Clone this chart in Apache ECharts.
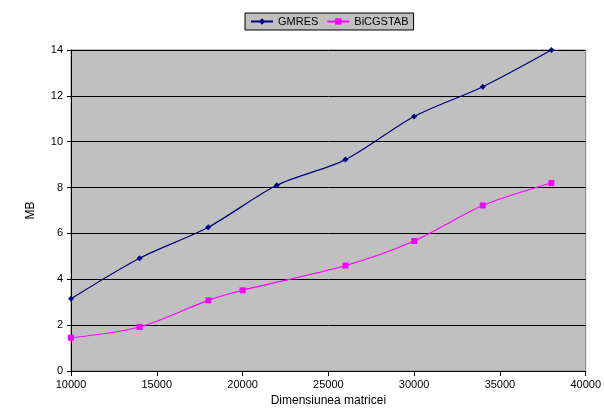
<!DOCTYPE html>
<html>
<head>
<meta charset="utf-8">
<script src="https://cdn.jsdelivr.net/npm/echarts@6/dist/echarts.min.js"></script>
<style>
  html, body { margin: 0; padding: 0; background: #fff; }
  #chart { width: 604px; height: 418px; }
</style>
</head>
<body>
<div id="chart"></div>
<script>
// Memory usage (MB) versus matrix dimension
const gmresSizes = [10000, 14000, 18000, 22000, 26000, 30000, 34000, 38000];
const gmresMB = [3.15, 4.92, 6.27, 8.1, 9.22, 11.1, 12.4, 14.0];
const bicgSizes = [10000, 14000, 18000, 20000, 26000, 30000, 34000, 38000];
const bicgMB = [1.45, 1.92, 3.08, 3.52, 4.6, 5.67, 7.22, 8.2];
const xTicks = [10000, 15000, 20000, 25000, 30000, 35000, 40000];
const yTicks = [0, 2, 4, 6, 8, 10, 12, 14];

const pairs = (xs, ys) => xs.map((x, i) => [x, ys[i]]);
const font = 'Liberation Sans, Arial, sans-serif';

const chart = echarts.init(document.getElementById('chart'), null, { renderer: 'canvas' });
chart.setOption({
  animation: false,
  backgroundColor: '#ffffff',
  textStyle: { fontFamily: font },
  grid: {
    left: 71, right: 18, top: 50, bottom: 47,
    show: true, backgroundColor: '#c0c0c0', borderColor: '#808080', borderWidth: 1
  },
  legend: {
    top: 13, left: 245,
    padding: [3, 5, 3, 5],
    backgroundColor: '#c0c0c0',
    borderColor: '#000', borderWidth: 1, borderRadius: 0,
    itemWidth: 22, itemHeight: 8, itemGap: 8,
    textStyle: { fontFamily: font, fontSize: 11, color: '#000' },
    data: ['GMRES', 'BiCGSTAB']
  },
  xAxis: {
    type: 'value',
    min: xTicks[0], max: xTicks[xTicks.length - 1], interval: 5000,
    name: 'Dimensiunea matricei', nameLocation: 'middle', nameGap: 24,
    nameTextStyle: { fontFamily: font, fontSize: 12, color: '#000' },
    axisLine: { show: true, lineStyle: { color: '#000', width: 1 } },
    axisTick: { show: true, length: 5, inside: false, lineStyle: { color: '#000' } },
    axisLabel: { fontFamily: font, fontSize: 11, color: '#000', margin: 8,
                 formatter: v => String(v) },
    splitLine: { show: false }
  },
  yAxis: {
    type: 'value',
    min: yTicks[0], max: yTicks[yTicks.length - 1], interval: 2,
    name: 'MB', nameLocation: 'middle', nameGap: 34, nameRotate: 90,
    nameTextStyle: { fontFamily: font, fontSize: 12, color: '#000' },
    axisLine: { show: true, lineStyle: { color: '#000', width: 1 } },
    axisTick: { show: true, length: 4, inside: false, lineStyle: { color: '#000' } },
    axisLabel: { fontFamily: font, fontSize: 11, color: '#000', margin: 8 },
    splitLine: { show: true, lineStyle: { color: '#000', width: 1 } }
  },
  series: [
    {
      name: 'GMRES', type: 'line', smooth: 0.3,
      data: pairs(gmresSizes, gmresMB),
      symbol: 'diamond', symbolSize: 6,
      lineStyle: { color: '#000080', width: 1.2 },
      itemStyle: { color: '#000080' }
    },
    {
      name: 'BiCGSTAB', type: 'line', smooth: 0.3,
      data: pairs(bicgSizes, bicgMB),
      symbol: 'rect', symbolSize: 6,
      lineStyle: { color: '#ff00ff', width: 1.2 },
      itemStyle: { color: '#ff00ff' }
    }
  ]
});
</script>
</body>
</html>
